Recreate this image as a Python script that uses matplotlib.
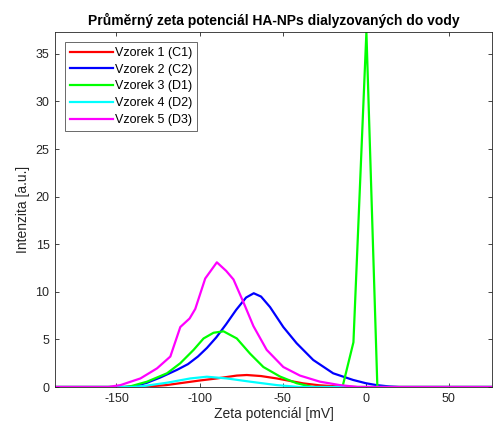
import matplotlib
matplotlib.use('Agg')
import matplotlib.pyplot as plt

plt.rcParams['font.family'] = ['Liberation Sans', 'DejaVu Sans']
plt.rcParams['axes.unicode_minus'] = False

# Vzorek 1 (C1)
x1 = [-187, -140, -131.6, -120, -109.6, -100, -89.6, -77.6, -71.6, -63, -53.6, -45, -37.6, -28, -17.6, -5, 76]
y1 = [0, 0, 0.05, 0.2, 0.45, 0.68, 0.9, 1.2, 1.26, 1.15, 0.9, 0.62, 0.38, 0.18, 0.07, 0, 0]
# Vzorek 2 (C2)
x2 = [-187, -145, -140, -131.6, -123.6, -113.6, -107, -101, -95.6, -90, -84, -78, -72, -67.4, -63, -57.6, -49.6,
      -41.6, -31.6, -19.6, -7.6, 0, 6.4, 14, 20, 76]
y2 = [0, 0, 0.05, 0.45, 1.0, 1.8, 2.4, 3.2, 4.1, 5.2, 6.6, 8.1, 9.4, 9.85, 9.5, 8.4, 6.3,
      4.6, 2.84, 1.44, 0.74, 0.4, 0.2, 0.06, 0, 0]
# Vzorek 3 (D1)
x3 = [-187, -145, -141, -131.6, -119.6, -111.6, -103.6, -97.6, -91.6, -85.6, -77.6, -69.6, -61.6,
      -51.6, -41.6, -32, -14, -7.4, 0.4, 7, 76]
y3 = [0, 0, 0.1, 0.56, 1.44, 2.5, 3.9, 5.1, 5.7, 5.85, 5.1, 3.5, 2.1,
      1.1, 0.4, 0, 0, 4.7, 37.3, 0, 0]
# Vzorek 4 (D2)
x4 = [-187, -140, -133.6, -119.6, -105.6, -95.6, -83.6, -69.6, -53.6, -40, 76]
y4 = [0, 0, 0.1, 0.45, 0.9, 1.08, 0.9, 0.56, 0.2, 0, 0]
# Vzorek 5 (D3)
x5 = [-187, -155, -147.6, -135.6, -125.6, -117.6, -111.6, -106, -102.6, -96.6, -89.6, -84, -79.6, -73.6,
      -67.6, -59.6, -49.6, -39.6, -27.6, -15.6, -5, 76]
y5 = [0, 0, 0.2, 0.9, 1.96, 3.2, 6.3, 7.2, 8.2, 11.4, 13.1, 12.2, 11.3, 8.9,
      6.4, 3.9, 2.1, 1.2, 0.56, 0.2, 0, 0]

labels = ['Vzorek 1 (C1)', 'Vzorek 2 (C2)', 'Vzorek 3 (D1)', 'Vzorek 4 (D2)', 'Vzorek 5 (D3)']
colors = ['#ff0000', '#0000ff', '#00ff00', '#00ffff', '#ff00ff']
series = [(x1, y1), (x2, y2), (x3, y3), (x4, y4), (x5, y5)]

fig = plt.figure(figsize=(4.93, 4.30), dpi=100)
ax = fig.add_axes([0.1116, 0.1, 0.8864, 0.8256])

for (xs, ys), lab, c in zip(series, labels, colors):
    ax.plot(xs, ys, color=c, linewidth=1.6, label=lab)

ax.set_xlim(-187, 76)
ax.set_ylim(0, 37.3)
ax.set_xticks([-150, -100, -50, 0, 50])
ax.set_yticks([0, 5, 10, 15, 20, 25, 30, 35])

tc = '#262626'
ax.tick_params(direction='in', top=True, right=True, length=3, width=0.6,
               labelsize=9, colors=tc, labelcolor=tc, pad=4)
for s in ax.spines.values():
    s.set_color(tc)
    s.set_linewidth(0.6)

ax.set_xlabel('Zeta potenciál [mV]', fontsize=10, color=tc, labelpad=2)
ax.set_ylabel('Intenzita [a.u.]', fontsize=10, color=tc, labelpad=4)
ax.set_title('Průměrný zeta potenciál HA-NPs dialyzovaných do vody', fontsize=10,
             fontweight='bold', color='black', pad=5)

leg = ax.legend(loc='upper left', fontsize=9, frameon=True, fancybox=False,
                edgecolor=tc, handlelength=3.4, handletextpad=0.2, borderpad=0.4,
                labelspacing=0.38, borderaxespad=0.8)
leg.get_frame().set_linewidth(0.6)

fig.savefig('out.png', dpi=100)
